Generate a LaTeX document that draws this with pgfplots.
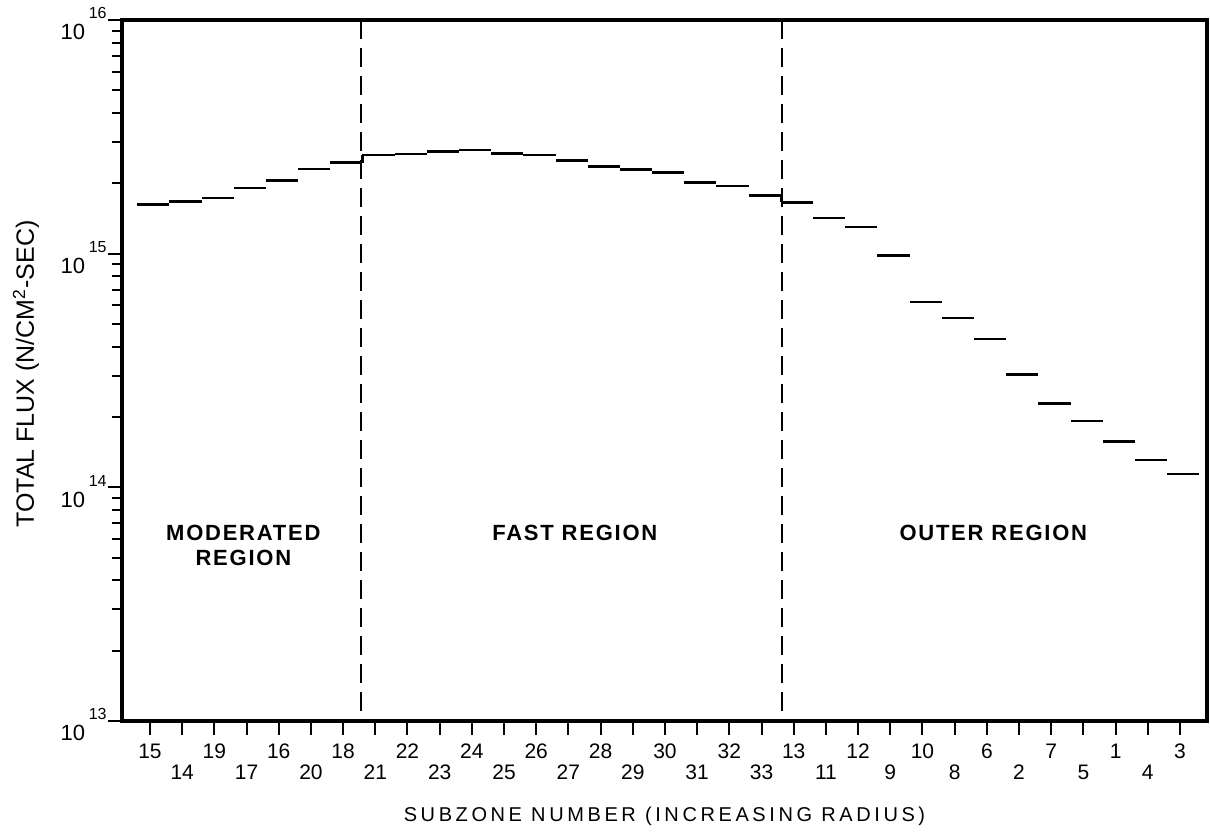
\documentclass[border=0pt]{standalone}
\usepackage{fontspec}
\setmainfont{Liberation Sans}
\newfontfamily\widefont{Liberation Sans}[LetterSpace=18]
\newfontfamily\regionfont{Liberation Sans}[LetterSpace=8]
\usepackage{pgfplots}
\usepackage{pgfplotstable}
\pgfplotsset{compat=1.18}

% total flux per subzone, subzones in order of increasing radius
\pgfplotstableread{
idx subzone flux
1  15 1.62e15
2  14 1.67e15
3  19 1.73e15
4  17 1.91e15
5  16 2.05e15
6  20 2.30e15
7  18 2.45e15
8  21 2.64e15
9  22 2.67e15
10 23 2.74e15
11 24 2.78e15
12 25 2.69e15
13 26 2.64e15
14 27 2.50e15
15 28 2.36e15
16 29 2.29e15
17 30 2.23e15
18 31 2.02e15
19 32 1.95e15
20 33 1.77e15
21 13 1.66e15
22 11 1.42e15
23 12 1.30e15
24 9  9.84e14
25 10 6.22e14
26 8  5.31e14
27 6  4.31e14
28 2  3.04e14
29 7  2.28e14
30 5  1.92e14
31 1  1.57e14
32 4  1.31e14
33 3  1.14e14
}\fluxdata

% second row of subzone numbers
\newcommand\lo[1]{\raisebox{-10.5pt}{#1}}
% decade label with raised exponent
\newcommand\dec[1]{10\hspace{1.8pt}\raisebox{10.5pt}{\fontsize{8}{9}\selectfont #1}}

\begin{document}
\begin{tikzpicture}
\begin{axis}[
  at={(0,0)}, anchor=south west,
  scale only axis, width=542.5pt, height=350.5pt,
  ymode=log, ymin=1e13, ymax=1e16,
  xmin=0.13, xmax=33.84,
  xtick={1,...,33},
  xticklabels={15,\lo{14},19,\lo{17},16,\lo{20},18,\lo{21},22,\lo{23},24,\lo{25},26,\lo{27},28,\lo{29},30,\lo{31},32,\lo{33},13,\lo{11},12,\lo{9},10,\lo{8},6,\lo{2},7,\lo{5},1,\lo{4},3},
  ytick={1e13,1e14,1e15,1e16},
  yticklabels={\dec{13},\dec{14},\dec{15},\dec{16}},
  tick pos=left, tick align=outside,
  major tick length=7pt, minor tick length=5pt,
  every tick/.style={black, line width=1pt},
  axis line style={line width=1.8pt},
  xticklabel style={font=\fontsize{10.5}{12}\selectfont, anchor=base, inner sep=0pt, yshift=-12pt},
  yticklabel style={font=\fontsize{11}{12}\selectfont, anchor=base east, inner sep=0pt, yshift=-10pt, xshift=-0.5pt},
  xlabel={\widefont SUBZONE NUMBER (INCREASING RADIUS)},
  xlabel style={font=\fontsize{10}{12}\selectfont, at={(axis description cs:0.5,0)}, anchor=base, yshift=-50.5pt},
  ylabel={TOTAL FLUX (N/CM\textsuperscript{2}-SEC)},
  ylabel style={font=\fontsize{12.5}{14}\selectfont, at={(axis description cs:-0.0885,0.495)}, anchor=center},
  clip=false,
]
% region boundaries
\addplot[black, line width=1pt, dash pattern=on 9.5pt off 4.5pt] coordinates {(7.56,1e16) (7.56,1e13)};
\addplot[black, line width=1pt, dash pattern=on 9.5pt off 4.5pt] coordinates {(20.62,1e16) (20.62,1e13)};

% one horizontal stroke per subzone
\addplot[draw=none, mark=none,
  error bars/.cd, x dir=both, x fixed=0.5, error mark=none,
  error bar style={draw=black, line width=1.3pt, solid}]
  table[x expr=\thisrow{idx}+0.1, y=flux] {\fluxdata};

% steps at the region boundaries (subzone 18 to 21, 33 to 13)
\addplot[black, line width=1.3pt] coordinates {(7.6,2.45e15) (7.6,2.64e15)};
\addplot[black, line width=1.3pt] coordinates {(20.6,1.77e15) (20.6,1.66e15)};

\node[font=\regionfont\bfseries\fontsize{11}{12.5}\selectfont, align=center, anchor=north, inner sep=0pt]
  at (axis cs:3.9,6.9e13) {MODERATED\\REGION};
\node[font=\regionfont\bfseries\fontsize{11}{12.5}\selectfont, anchor=north, inner sep=0pt]
  at (axis cs:14.2,6.9e13) {FAST REGION};
\node[font=\regionfont\bfseries\fontsize{11}{12.5}\selectfont, anchor=north, inner sep=0pt]
  at (axis cs:27.2,6.9e13) {OUTER REGION};
\end{axis}
\pgfresetboundingbox
\path (-61pt,-55.5pt) rectangle (544pt,360.5pt);
\end{tikzpicture}
\end{document}
